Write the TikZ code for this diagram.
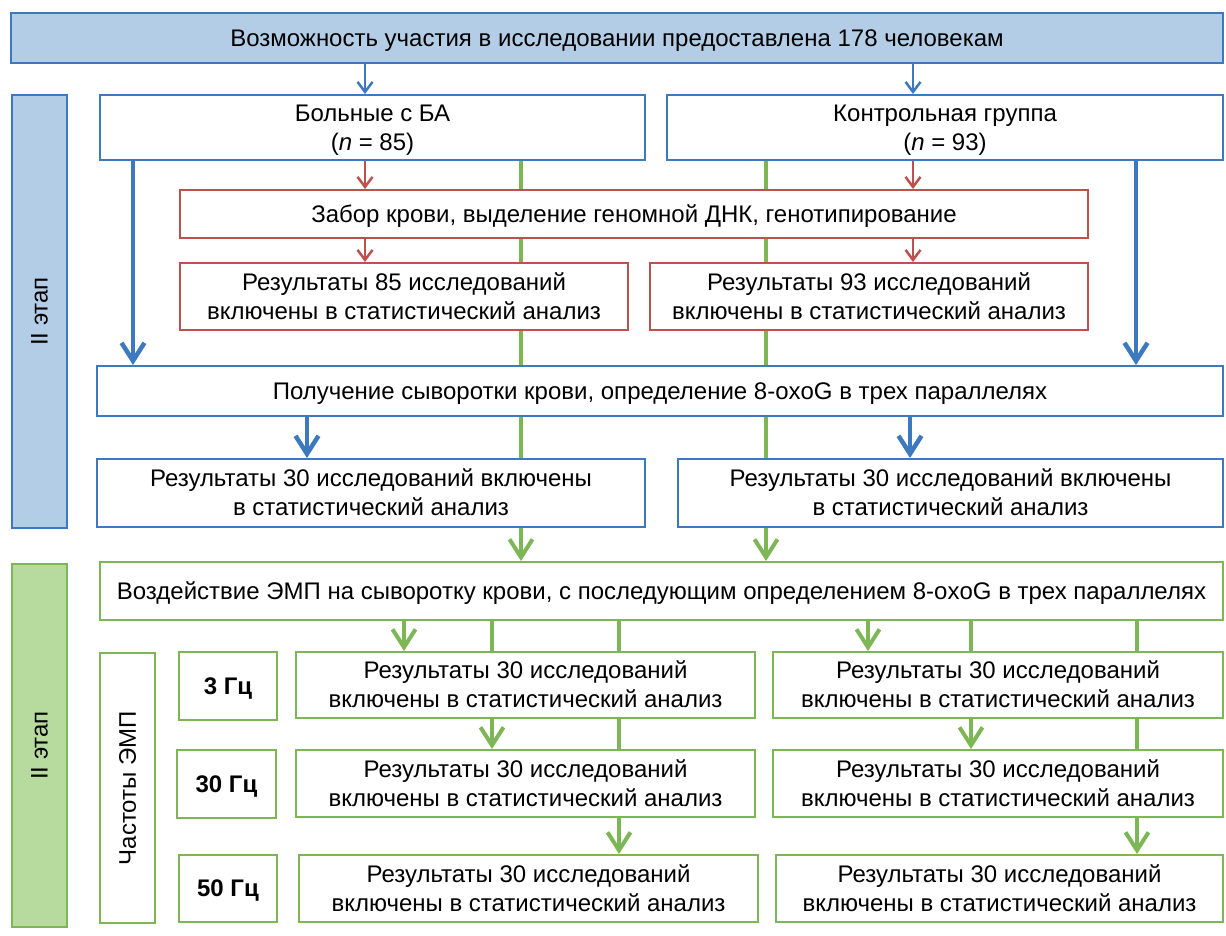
\documentclass[tikz,border=0pt]{standalone}
\usepackage{fontspec}
\setmainfont{Liberation Sans}
\usetikzlibrary{arrows.meta,backgrounds}

\definecolor{blueline}{RGB}{61,121,190}
\definecolor{bluefill}{RGB}{179,205,230}
\definecolor{redline}{RGB}{192,80,77}
\definecolor{greenline}{RGB}{125,182,84}
\definecolor{greenfill}{RGB}{183,218,159}

\tikzset{
  box/.style={draw, line width=2pt, fill=white, inner sep=0pt, align=center,
    font=\fontsize{24}{29}\selectfont, text height=21.7pt, text depth=5.1pt},
  twolines/.style={text height=50.7pt},
  bluebox/.style={box, draw=blueline},
  redbox/.style={box, draw=redline},
  greenbox/.style={box, draw=greenline},
  hzbox/.style={greenbox, font=\fontsize{24}{29}\selectfont\bfseries},
  upright/.style={rotate=90, font=\fontsize{24}{29}\selectfont},
  thinblue/.style={blueline, line width=2.5pt, -{Straight Barb[length=10pt,width=15pt]}},
  thickblue/.style={blueline, line width=4.5pt, -{Straight Barb[length=18pt,width=23pt]}},
  thinred/.style={redline, line width=2.5pt, -{Straight Barb[length=10pt,width=15pt]}},
  greenarrow/.style={greenline, line width=4pt, -{Straight Barb[length=18pt,width=23pt]}},
}

\begin{document}
\begin{tikzpicture}[x=1pt,y=-1pt]
\useasboundingbox (0,0) rectangle (1226,936);

% stage I
\node[bluebox, fill=bluefill, minimum width=1212pt, minimum height=50pt] (top) at (617,38) {Возможность участия в исследовании предоставлена 178 человекам};
\node[bluebox, fill=bluefill, minimum width=55pt, minimum height=433pt] (stageone) at (39.5,311.5) {};
\node[upright] (stageonelabel) at (stageone) {II этап};
\node[bluebox, twolines, minimum width=545pt, minimum height=65pt] (sick) at (372.5,127.5) {Больные с БА\\(\textit{n} = 85)};
\node[bluebox, twolines, minimum width=556pt, minimum height=65pt] (ctrl) at (945,127.5) {Контрольная группа\\(\textit{n} = 93)};
\node[redbox, minimum width=908pt, minimum height=48pt] (blood) at (634,214) {Забор крови, выделение геномной ДНК, генотипирование};
\node[redbox, twolines, minimum width=448pt, minimum height=67pt] (res85) at (404,296.5) {Результаты 85 исследований\\включены в статистический анализ};
\node[redbox, twolines, minimum width=438pt, minimum height=67pt] (res93) at (869,296.5) {Результаты 93 исследований\\включены в статистический анализ};
\node[bluebox, minimum width=1126pt, minimum height=50pt] (serum) at (660,391) {Получение сыворотки крови, определение 8-oxoG в трех параллелях};
\node[bluebox, twolines, minimum width=548pt, minimum height=68pt] (sicka) at (371,493) {Результаты 30 исследований включены\\в статистический анализ};
\node[bluebox, twolines, minimum width=545pt, minimum height=68pt] (ctrla) at (950.5,493) {Результаты 30 исследований включены\\в статистический анализ};

% stage II
\node[greenbox, fill=greenfill, minimum width=55pt, minimum height=363pt] (stagetwo) at (39.5,745.5) {};
\node[upright] (stagetwolabel) at (stagetwo) {II этап};
\node[greenbox, minimum width=1123pt, minimum height=58pt] (emp) at (661.5,591) {Воздействие ЭМП на сыворотку крови, с последующим определением 8-oxoG в трех параллелях};
\node[greenbox, minimum width=55pt, minimum height=270pt] (freq) at (127.5,788) {};
\node[upright] (freqlabel) at (freq) {Частоты ЭМП};
\node[hzbox, minimum width=98pt, minimum height=68pt] (hz3) at (228,686) {3 Гц};
\node[hzbox, minimum width=99pt, minimum height=68pt] (hz30) at (226.5,784) {30 Гц};
\node[hzbox, minimum width=98pt, minimum height=67pt] (hz50) at (228,888.5) {50 Гц};
\node[greenbox, twolines, minimum width=459pt, minimum height=66pt] (sickb) at (525.5,685) {Результаты 30 исследований\\включены в статистический анализ};
\node[greenbox, twolines, minimum width=459pt, minimum height=67pt] (sickc) at (525.5,783.5) {Результаты 30 исследований\\включены в статистический анализ};
\node[greenbox, twolines, minimum width=459pt, minimum height=67pt] (sickd) at (528.5,888.5) {Результаты 30 исследований\\включены в статистический анализ};
\node[greenbox, twolines, minimum width=450pt, minimum height=66pt] (ctrlb) at (998,685) {Результаты 30 исследований\\включены в статистический анализ};
\node[greenbox, twolines, minimum width=450pt, minimum height=67pt] (ctrlc) at (998,783.5) {Результаты 30 исследований\\включены в статистический анализ};
\node[greenbox, twolines, minimum width=447pt, minimum height=67pt] (ctrld) at (999.5,888.5) {Результаты 30 исследований\\включены в статистический анализ};

% columns of the connectors
\coordinate (xa) at (133,0);
\coordinate (xb) at (307,0);
\coordinate (xc) at (365,0);
\coordinate (xd) at (521,0);
\coordinate (xe) at (766,0);
\coordinate (xf) at (910,0);
\coordinate (xg) at (913,0);
\coordinate (xh) at (1136,0);
\coordinate (xi) at (404,0);
\coordinate (xj) at (492,0);
\coordinate (xk) at (619,0);
\coordinate (xl) at (868,0);
\coordinate (xm) at (971,0);
\coordinate (xn) at (1137,0);

\draw[thinblue] (top.south -| xc) -- (sick.north -| xc);
\draw[thinblue] (top.south -| xg) -- (ctrl.north -| xg);
\draw[thinred] (sick.south -| xc) -- (blood.north -| xc);
\draw[thinred] (ctrl.south -| xg) -- (blood.north -| xg);
\draw[thinred] (blood.south -| xc) -- (res85.north -| xc);
\draw[thinred] (blood.south -| xg) -- (res93.north -| xg);
\draw[thickblue] (sick.south -| xa) -- (serum.north -| xa);
\draw[thickblue] (ctrl.south -| xh) -- (serum.north -| xh);
\draw[thickblue] (serum.south -| xb) -- (sicka.north -| xb);
\draw[thickblue] (serum.south -| xf) -- (ctrla.north -| xf);

\draw[greenarrow] (emp.south -| xi) -- (sickb.north -| xi);
\draw[greenarrow] (emp.south -| xl) -- (ctrlb.north -| xl);

\begin{scope}[on background layer]
\draw[greenarrow] (sick.south -| xd) -- (emp.north -| xd);
\draw[greenarrow] (ctrl.south -| xe) -- (emp.north -| xe);
\draw[greenarrow] (emp.south -| xj) -- (sickc.north -| xj);
\draw[greenarrow] (emp.south -| xk) -- (sickd.north -| xk);
\draw[greenarrow] (emp.south -| xm) -- (ctrlc.north -| xm);
\draw[greenarrow] (emp.south -| xn) -- (ctrld.north -| xn);
\end{scope}
\end{tikzpicture}
\end{document}
